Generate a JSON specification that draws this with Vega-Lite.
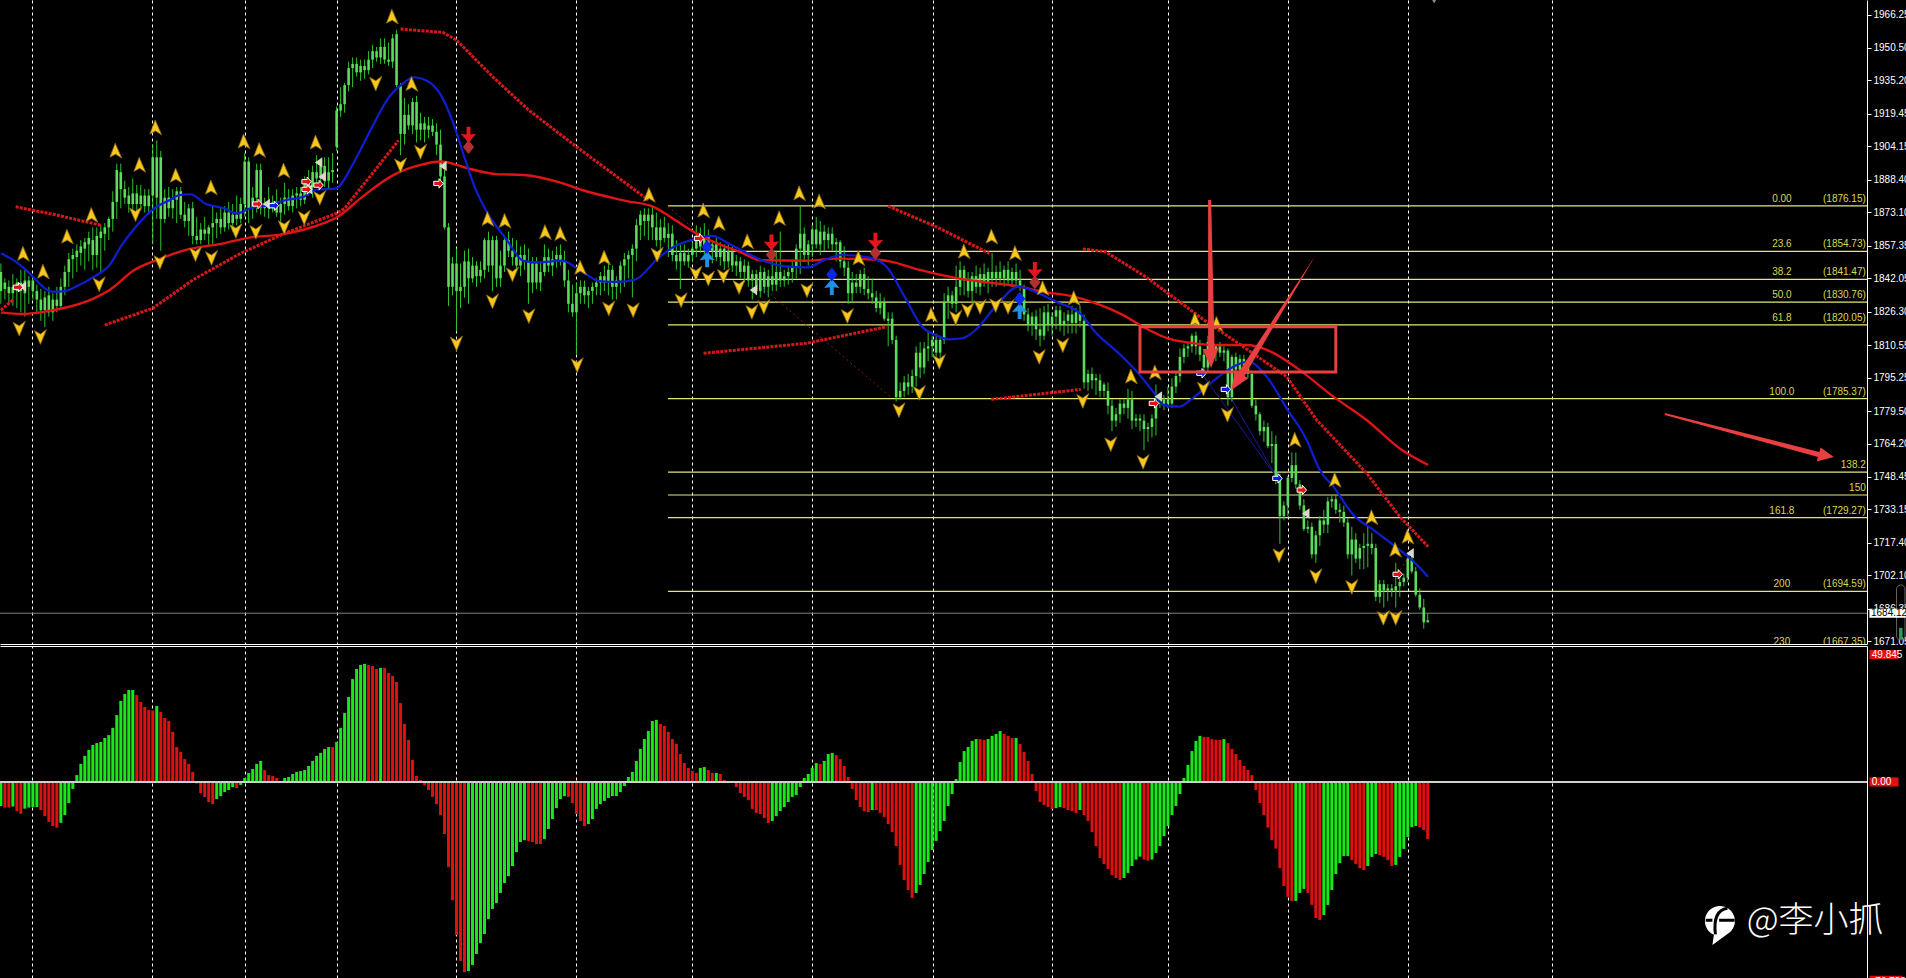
{"$schema":"https://vega.github.io/schema/vega-lite/v6.json","background":"#000000","padding":0,"spacing":2,"bounds":"flush","config":{"view":{"stroke":null},"axis":{"title":null},"text":{"font":"Liberation Sans"}},
"datasets":{
"bars":[
{"i":0,"o":1836,"h":1849,"l":1830,"c":1845,"m":-9,"s":"g"},{"i":1,"o":1837,"h":1842,"l":1832,"c":1840,"m":-9.6,"s":"r"},{"i":2,"o":1835,"h":1841,"l":1830,"c":1838,"m":-9.6,"s":"r"},{"i":3,"o":1838,"h":1844,"l":1829,"c":1835,"m":-9.2,"s":"g"},{"i":4,"o":1836,"h":1842,"l":1828,"c":1840,"m":-10.9,"s":"r"},{"i":5,"o":1840,"h":1846,"l":1826,"c":1836,"m":-11.9,"s":"r"},{"i":6,"o":1835,"h":1846,"l":1824,"c":1841,"m":-10,"s":"g"},{"i":7,"o":1838,"h":1843,"l":1830,"c":1841,"m":-9.6,"s":"g"},{"i":8,"o":1841,"h":1843,"l":1832,"c":1836,"m":-9.4,"s":"g"},{"i":9,"o":1836,"h":1839,"l":1826,"c":1832,"m":-9.4,"s":"g"},
{"i":10,"o":1832,"h":1837,"l":1822,"c":1827,"m":-10.5,"s":"r"},{"i":11,"o":1827,"h":1836,"l":1819,"c":1833,"m":-12.8,"s":"r"},{"i":12,"o":1834,"h":1838,"l":1824,"c":1826,"m":-15,"s":"r"},{"i":13,"o":1826,"h":1835,"l":1822,"c":1832,"m":-16.5,"s":"r"},{"i":14,"o":1832,"h":1838,"l":1826,"c":1829,"m":-17.1,"s":"r"},{"i":15,"o":1829,"h":1842,"l":1827,"c":1838,"m":-15.3,"s":"g"},{"i":16,"o":1838,"h":1848,"l":1834,"c":1845,"m":-12.4,"s":"g"},{"i":17,"o":1845,"h":1854,"l":1838,"c":1851,"m":-7.9,"s":"g"},{"i":18,"o":1851,"h":1856,"l":1842,"c":1853,"m":-2.6,"s":"g"},{"i":19,"o":1852,"h":1858,"l":1845,"c":1855,"m":2.6,"s":"g"},
{"i":20,"o":1854,"h":1860,"l":1848,"c":1857,"m":6.8,"s":"g"},{"i":21,"o":1856,"h":1861,"l":1846,"c":1859,"m":9.8,"s":"g"},{"i":22,"o":1858,"h":1864,"l":1850,"c":1861,"m":12,"s":"g"},{"i":23,"o":1860,"h":1866,"l":1846,"c":1853,"m":13.9,"s":"g"},{"i":24,"o":1853,"h":1866,"l":1847,"c":1862,"m":14.6,"s":"g"},{"i":25,"o":1861,"h":1867,"l":1845,"c":1864,"m":15,"s":"g"},{"i":26,"o":1863,"h":1868,"l":1855,"c":1866,"m":16.5,"s":"g"},{"i":27,"o":1866,"h":1871,"l":1860,"c":1870,"m":17.6,"s":"g"},{"i":28,"o":1870,"h":1883,"l":1864,"c":1878,"m":20.3,"s":"g"},{"i":29,"o":1878,"h":1896,"l":1870,"c":1893,"m":25.1,"s":"g"},
{"i":30,"o":1892,"h":1896,"l":1875,"c":1884,"m":30.4,"s":"g"},{"i":31,"o":1884,"h":1888,"l":1877,"c":1880,"m":33,"s":"g"},{"i":32,"o":1881,"h":1885,"l":1873,"c":1877,"m":34.5,"s":"g"},{"i":33,"o":1877,"h":1889,"l":1874,"c":1882,"m":34.5,"s":"g"},{"i":34,"o":1882,"h":1886,"l":1873,"c":1877,"m":32.6,"s":"r"},{"i":35,"o":1877,"h":1886,"l":1874,"c":1881,"m":30,"s":"r"},{"i":36,"o":1881,"h":1884,"l":1873,"c":1876,"m":28.1,"s":"r"},{"i":37,"o":1876,"h":1884,"l":1872,"c":1881,"m":27,"s":"r"},{"i":38,"o":1881,"h":1905,"l":1858,"c":1899,"m":26.8,"s":"r"},{"i":39,"o":1880,"h":1907,"l":1870,"c":1899,"m":28.5,"s":"g"},
{"i":40,"o":1899,"h":1902,"l":1855,"c":1870,"m":26.3,"s":"r"},{"i":41,"o":1870,"h":1884,"l":1868,"c":1880,"m":24,"s":"r"},{"i":42,"o":1880,"h":1885,"l":1871,"c":1875,"m":22.9,"s":"r"},{"i":43,"o":1875,"h":1884,"l":1870,"c":1879,"m":18.8,"s":"r"},{"i":44,"o":1879,"h":1885,"l":1868,"c":1883,"m":13.1,"s":"r"},{"i":45,"o":1883,"h":1885,"l":1870,"c":1872,"m":11.3,"s":"r"},{"i":46,"o":1872,"h":1878,"l":1866,"c":1869,"m":8.6,"s":"r"},{"i":47,"o":1869,"h":1877,"l":1862,"c":1875,"m":6.8,"s":"r"},{"i":48,"o":1875,"h":1878,"l":1858,"c":1862,"m":3.8,"s":"r"},{"i":49,"o":1862,"h":1871,"l":1858,"c":1860,"m":-0.6,"s":"r"},
{"i":50,"o":1860,"h":1868,"l":1858,"c":1865,"m":-4.1,"s":"r"},{"i":51,"o":1865,"h":1871,"l":1860,"c":1863,"m":-5.6,"s":"r"},{"i":52,"o":1863,"h":1867,"l":1857,"c":1866,"m":-7.5,"s":"r"},{"i":53,"o":1866,"h":1876,"l":1858,"c":1868,"m":-8.3,"s":"r"},{"i":54,"o":1868,"h":1873,"l":1861,"c":1870,"m":-6.4,"s":"g"},{"i":55,"o":1870,"h":1875,"l":1863,"c":1866,"m":-5.3,"s":"g"},{"i":56,"o":1866,"h":1876,"l":1864,"c":1873,"m":-3.8,"s":"g"},{"i":57,"o":1873,"h":1878,"l":1865,"c":1868,"m":-3,"s":"g"},{"i":58,"o":1868,"h":1877,"l":1864,"c":1872,"m":-1.9,"s":"g"},{"i":59,"o":1872,"h":1881,"l":1867,"c":1870,"m":-2.3,"s":"r"},
{"i":60,"o":1870,"h":1880,"l":1868,"c":1877,"m":-1.1,"s":"g"},{"i":61,"o":1877,"h":1901,"l":1871,"c":1897,"m":1.5,"s":"g"},{"i":62,"o":1897,"h":1899,"l":1868,"c":1875,"m":3.4,"s":"g"},{"i":63,"o":1875,"h":1885,"l":1870,"c":1880,"m":4.9,"s":"g"},{"i":64,"o":1880,"h":1896,"l":1873,"c":1893,"m":6.8,"s":"g"},{"i":65,"o":1893,"h":1896,"l":1872,"c":1875,"m":7.9,"s":"g"},{"i":66,"o":1875,"h":1880,"l":1871,"c":1877,"m":4.5,"s":"r"},{"i":67,"o":1877,"h":1885,"l":1870,"c":1875,"m":2.6,"s":"r"},{"i":68,"o":1875,"h":1881,"l":1873,"c":1878,"m":2.3,"s":"r"},{"i":69,"o":1878,"h":1884,"l":1871,"c":1873,"m":1.5,"s":"r"},
{"i":70,"o":1873,"h":1880,"l":1868,"c":1877,"m":0.3,"s":"r"},{"i":71,"o":1877,"h":1887,"l":1872,"c":1880,"m":1.5,"s":"g"},{"i":72,"o":1880,"h":1884,"l":1874,"c":1876,"m":1.9,"s":"g"},{"i":73,"o":1876,"h":1884,"l":1873,"c":1881,"m":3,"s":"g"},{"i":74,"o":1881,"h":1885,"l":1875,"c":1882,"m":3.8,"s":"g"},{"i":75,"o":1882,"h":1885,"l":1876,"c":1879,"m":4.1,"s":"g"},{"i":76,"o":1879,"h":1890,"l":1877,"c":1887,"m":4.5,"s":"g"},{"i":77,"o":1887,"h":1893,"l":1881,"c":1885,"m":6,"s":"g"},{"i":78,"o":1885,"h":1895,"l":1880,"c":1892,"m":7.9,"s":"g"},{"i":79,"o":1892,"h":1900,"l":1886,"c":1889,"m":9.8,"s":"g"},
{"i":80,"o":1889,"h":1898,"l":1884,"c":1895,"m":10.9,"s":"g"},{"i":81,"o":1895,"h":1899,"l":1885,"c":1888,"m":12.4,"s":"g"},{"i":82,"o":1888,"h":1899,"l":1884,"c":1892,"m":13.1,"s":"g"},{"i":83,"o":1892,"h":1901,"l":1887,"c":1893,"m":13.1,"s":"r"},{"i":84,"o":1904,"h":1923,"l":1902,"c":1921,"m":15,"s":"g"},{"i":85,"o":1921,"h":1932,"l":1918,"c":1924,"m":20.3,"s":"g"},{"i":86,"o":1924,"h":1934,"l":1920,"c":1933,"m":25.9,"s":"g"},{"i":87,"o":1933,"h":1944,"l":1930,"c":1941,"m":31.9,"s":"g"},{"i":88,"o":1941,"h":1946,"l":1932,"c":1943,"m":38.6,"s":"g"},{"i":89,"o":1943,"h":1946,"l":1937,"c":1939,"m":42.4,"s":"g"},
{"i":90,"o":1939,"h":1945,"l":1935,"c":1942,"m":43.9,"s":"g"},{"i":91,"o":1942,"h":1945,"l":1936,"c":1940,"m":44.3,"s":"g"},{"i":92,"o":1940,"h":1949,"l":1938,"c":1945,"m":43.9,"s":"r"},{"i":93,"o":1945,"h":1952,"l":1941,"c":1949,"m":43.5,"s":"r"},{"i":94,"o":1949,"h":1951,"l":1944,"c":1946,"m":42.4,"s":"r"},{"i":95,"o":1946,"h":1955,"l":1943,"c":1951,"m":42.8,"s":"g"},{"i":96,"o":1951,"h":1955,"l":1943,"c":1945,"m":42.8,"s":"r"},{"i":97,"o":1945,"h":1953,"l":1942,"c":1944,"m":40.9,"s":"r"},{"i":98,"o":1944,"h":1957,"l":1941,"c":1955,"m":39.8,"s":"r"},{"i":99,"o":1957,"h":1959,"l":1932,"c":1933,"m":37.5,"s":"r"},
{"i":100,"o":1933,"h":1934,"l":1900,"c":1910,"m":29.6,"s":"r"},{"i":101,"o":1910,"h":1927,"l":1905,"c":1919,"m":21.8,"s":"r"},{"i":102,"o":1919,"h":1924,"l":1912,"c":1914,"m":15.8,"s":"r"},{"i":103,"o":1914,"h":1927,"l":1910,"c":1925,"m":8.3,"s":"r"},{"i":104,"o":1925,"h":1928,"l":1906,"c":1912,"m":2.3,"s":"r"},{"i":105,"o":1912,"h":1920,"l":1907,"c":1915,"m":0.8,"s":"r"},{"i":106,"o":1915,"h":1918,"l":1906,"c":1912,"m":-1.1,"s":"r"},{"i":107,"o":1912,"h":1918,"l":1908,"c":1914,"m":-3,"s":"r"},{"i":108,"o":1914,"h":1917,"l":1909,"c":1911,"m":-5.6,"s":"r"},{"i":109,"o":1911,"h":1915,"l":1900,"c":1905,"m":-8.3,"s":"r"},
{"i":110,"o":1905,"h":1912,"l":1885,"c":1890,"m":-12.4,"s":"r"},{"i":111,"o":1890,"h":1893,"l":1865,"c":1866,"m":-19.5,"s":"r"},{"i":112,"o":1866,"h":1868,"l":1829,"c":1838,"m":-31.9,"s":"r"},{"i":113,"o":1838,"h":1852,"l":1834,"c":1849,"m":-44.3,"s":"r"},{"i":114,"o":1849,"h":1856,"l":1817,"c":1836,"m":-57.4,"s":"r"},{"i":115,"o":1836,"h":1849,"l":1828,"c":1838,"m":-67.1,"s":"r"},{"i":116,"o":1838,"h":1855,"l":1833,"c":1850,"m":-71.3,"s":"r"},{"i":117,"o":1850,"h":1856,"l":1830,"c":1842,"m":-70.9,"s":"g"},{"i":118,"o":1842,"h":1852,"l":1840,"c":1848,"m":-68.6,"s":"g"},{"i":119,"o":1848,"h":1850,"l":1838,"c":1843,"m":-64.5,"s":"g"},
{"i":120,"o":1843,"h":1850,"l":1840,"c":1846,"m":-60.4,"s":"g"},{"i":121,"o":1846,"h":1861,"l":1842,"c":1860,"m":-57,"s":"g"},{"i":122,"o":1860,"h":1864,"l":1845,"c":1848,"m":-51.4,"s":"g"},{"i":123,"o":1848,"h":1862,"l":1836,"c":1860,"m":-47.6,"s":"g"},{"i":124,"o":1860,"h":1862,"l":1838,"c":1842,"m":-45.4,"s":"g"},{"i":125,"o":1842,"h":1855,"l":1838,"c":1848,"m":-41.6,"s":"g"},{"i":126,"o":1848,"h":1862,"l":1845,"c":1860,"m":-37.9,"s":"g"},{"i":127,"o":1860,"h":1864,"l":1852,"c":1855,"m":-35.3,"s":"g"},{"i":128,"o":1855,"h":1861,"l":1848,"c":1852,"m":-31.5,"s":"g"},{"i":129,"o":1852,"h":1860,"l":1845,"c":1848,"m":-26.3,"s":"g"},
{"i":130,"o":1848,"h":1857,"l":1843,"c":1853,"m":-22.5,"s":"g"},{"i":131,"o":1853,"h":1858,"l":1846,"c":1850,"m":-21.8,"s":"g"},{"i":132,"o":1850,"h":1856,"l":1830,"c":1840,"m":-22.1,"s":"r"},{"i":133,"o":1840,"h":1852,"l":1835,"c":1849,"m":-22.5,"s":"r"},{"i":134,"o":1849,"h":1852,"l":1837,"c":1840,"m":-23.3,"s":"r"},{"i":135,"o":1840,"h":1850,"l":1836,"c":1845,"m":-23.3,"s":"r"},{"i":136,"o":1845,"h":1858,"l":1843,"c":1852,"m":-21.4,"s":"g"},{"i":137,"o":1852,"h":1856,"l":1845,"c":1848,"m":-17.6,"s":"g"},{"i":138,"o":1848,"h":1855,"l":1843,"c":1851,"m":-13.9,"s":"g"},{"i":139,"o":1851,"h":1857,"l":1847,"c":1853,"m":-9.8,"s":"g"},
{"i":140,"o":1853,"h":1858,"l":1848,"c":1850,"m":-6.4,"s":"g"},{"i":141,"o":1850,"h":1855,"l":1838,"c":1841,"m":-5.3,"s":"g"},{"i":142,"o":1841,"h":1846,"l":1826,"c":1830,"m":-5.6,"s":"r"},{"i":143,"o":1830,"h":1839,"l":1824,"c":1826,"m":-7.9,"s":"r"},{"i":144,"o":1826,"h":1840,"l":1806,"c":1835,"m":-12,"s":"r"},{"i":145,"o":1835,"h":1841,"l":1830,"c":1838,"m":-14.6,"s":"r"},{"i":146,"o":1838,"h":1841,"l":1830,"c":1834,"m":-16.5,"s":"r"},{"i":147,"o":1834,"h":1838,"l":1828,"c":1836,"m":-15.8,"s":"g"},{"i":148,"o":1836,"h":1840,"l":1830,"c":1838,"m":-13.9,"s":"g"},{"i":149,"o":1838,"h":1842,"l":1834,"c":1840,"m":-10.1,"s":"g"},
{"i":150,"o":1840,"h":1845,"l":1834,"c":1843,"m":-8.3,"s":"g"},{"i":151,"o":1843,"h":1848,"l":1836,"c":1840,"m":-7.1,"s":"g"},{"i":152,"o":1840,"h":1849,"l":1834,"c":1846,"m":-6,"s":"g"},{"i":153,"o":1846,"h":1848,"l":1832,"c":1838,"m":-5.3,"s":"g"},{"i":154,"o":1838,"h":1843,"l":1832,"c":1841,"m":-5.3,"s":"g"},{"i":155,"o":1841,"h":1850,"l":1835,"c":1848,"m":-3.8,"s":"g"},{"i":156,"o":1848,"h":1854,"l":1838,"c":1851,"m":-1.5,"s":"g"},{"i":157,"o":1851,"h":1855,"l":1842,"c":1853,"m":1.9,"s":"g"},{"i":158,"o":1853,"h":1858,"l":1833,"c":1856,"m":3.8,"s":"g"},{"i":159,"o":1856,"h":1870,"l":1850,"c":1867,"m":7.9,"s":"g"},
{"i":160,"o":1867,"h":1874,"l":1860,"c":1872,"m":12.4,"s":"g"},{"i":161,"o":1872,"h":1875,"l":1862,"c":1869,"m":16.1,"s":"g"},{"i":162,"o":1869,"h":1875,"l":1860,"c":1872,"m":19.1,"s":"g"},{"i":163,"o":1872,"h":1876,"l":1860,"c":1866,"m":22.9,"s":"g"},{"i":164,"o":1866,"h":1873,"l":1857,"c":1860,"m":23.3,"s":"g"},{"i":165,"o":1860,"h":1870,"l":1855,"c":1866,"m":21.8,"s":"r"},{"i":166,"o":1866,"h":1871,"l":1859,"c":1861,"m":21,"s":"r"},{"i":167,"o":1861,"h":1868,"l":1852,"c":1863,"m":18.8,"s":"r"},{"i":168,"o":1863,"h":1867,"l":1850,"c":1853,"m":16.1,"s":"r"},{"i":169,"o":1853,"h":1860,"l":1846,"c":1850,"m":14.3,"s":"r"},
{"i":170,"o":1850,"h":1858,"l":1837,"c":1854,"m":10.5,"s":"r"},{"i":171,"o":1854,"h":1858,"l":1848,"c":1850,"m":7.1,"s":"r"},{"i":172,"o":1850,"h":1856,"l":1847,"c":1853,"m":5.3,"s":"r"},{"i":173,"o":1853,"h":1860,"l":1850,"c":1856,"m":4.1,"s":"r"},{"i":174,"o":1856,"h":1867,"l":1852,"c":1860,"m":3.4,"s":"r"},{"i":175,"o":1860,"h":1866,"l":1854,"c":1857,"m":5.3,"s":"g"},{"i":176,"o":1857,"h":1868,"l":1852,"c":1862,"m":5.6,"s":"g"},{"i":177,"o":1862,"h":1865,"l":1852,"c":1855,"m":4.5,"s":"r"},{"i":178,"o":1855,"h":1860,"l":1849,"c":1858,"m":3.4,"s":"r"},{"i":179,"o":1858,"h":1861,"l":1850,"c":1852,"m":3.4,"s":"g"},
{"i":180,"o":1852,"h":1859,"l":1848,"c":1856,"m":3,"s":"r"},{"i":181,"o":1856,"h":1858,"l":1846,"c":1850,"m":0.8,"s":"r"},{"i":182,"o":1850,"h":1858,"l":1847,"c":1855,"m":0.1,"s":"r"},{"i":183,"o":1855,"h":1857,"l":1845,"c":1848,"m":-0.2,"s":"r"},{"i":184,"o":1848,"h":1853,"l":1843,"c":1850,"m":-1.9,"s":"r"},{"i":185,"o":1850,"h":1852,"l":1842,"c":1845,"m":-4.1,"s":"r"},{"i":186,"o":1845,"h":1851,"l":1840,"c":1848,"m":-5.6,"s":"r"},{"i":187,"o":1848,"h":1850,"l":1838,"c":1841,"m":-6.8,"s":"r"},{"i":188,"o":1841,"h":1846,"l":1832,"c":1844,"m":-10.1,"s":"r"},{"i":189,"o":1844,"h":1846,"l":1834,"c":1836,"m":-11.6,"s":"r"},
{"i":190,"o":1836,"h":1848,"l":1833,"c":1845,"m":-12,"s":"r"},{"i":191,"o":1845,"h":1847,"l":1835,"c":1838,"m":-13.5,"s":"r"},{"i":192,"o":1838,"h":1846,"l":1833,"c":1843,"m":-15.4,"s":"r"},{"i":193,"o":1843,"h":1850,"l":1836,"c":1839,"m":-14.6,"s":"g"},{"i":194,"o":1839,"h":1855,"l":1836,"c":1845,"m":-12.8,"s":"g"},{"i":195,"o":1845,"h":1864,"l":1838,"c":1841,"m":-10.9,"s":"g"},{"i":196,"o":1841,"h":1846,"l":1838,"c":1843,"m":-9.4,"s":"g"},{"i":197,"o":1843,"h":1848,"l":1839,"c":1845,"m":-7.5,"s":"g"},{"i":198,"o":1845,"h":1850,"l":1840,"c":1847,"m":-5.6,"s":"g"},{"i":199,"o":1847,"h":1858,"l":1842,"c":1856,"m":-4.9,"s":"g"},
{"i":200,"o":1856,"h":1876,"l":1844,"c":1863,"m":-1.9,"s":"g"},{"i":201,"o":1863,"h":1866,"l":1850,"c":1853,"m":1.5,"s":"g"},{"i":202,"o":1853,"h":1860,"l":1848,"c":1858,"m":3,"s":"g"},{"i":203,"o":1858,"h":1867,"l":1852,"c":1865,"m":5.3,"s":"g"},{"i":204,"o":1865,"h":1871,"l":1856,"c":1858,"m":7.1,"s":"g"},{"i":205,"o":1858,"h":1869,"l":1853,"c":1864,"m":6.8,"s":"r"},{"i":206,"o":1864,"h":1867,"l":1855,"c":1860,"m":7.9,"s":"g"},{"i":207,"o":1860,"h":1866,"l":1856,"c":1863,"m":10.5,"s":"g"},{"i":208,"o":1863,"h":1866,"l":1855,"c":1858,"m":10.9,"s":"g"},{"i":209,"o":1858,"h":1861,"l":1850,"c":1859,"m":10.1,"s":"r"},
{"i":210,"o":1859,"h":1860,"l":1847,"c":1850,"m":8.6,"s":"r"},{"i":211,"o":1850,"h":1857,"l":1843,"c":1847,"m":6,"s":"r"},{"i":212,"o":1847,"h":1850,"l":1830,"c":1835,"m":1.9,"s":"r"},{"i":213,"o":1835,"h":1845,"l":1831,"c":1840,"m":-2.6,"s":"r"},{"i":214,"o":1840,"h":1844,"l":1835,"c":1838,"m":-6.8,"s":"r"},{"i":215,"o":1838,"h":1846,"l":1835,"c":1844,"m":-9.4,"s":"r"},{"i":216,"o":1844,"h":1847,"l":1834,"c":1837,"m":-10.9,"s":"r"},{"i":217,"o":1837,"h":1843,"l":1832,"c":1835,"m":-11.3,"s":"r"},{"i":218,"o":1835,"h":1842,"l":1830,"c":1833,"m":-10.5,"s":"g"},{"i":219,"o":1833,"h":1836,"l":1826,"c":1828,"m":-10.5,"s":"r"},
{"i":220,"o":1828,"h":1835,"l":1825,"c":1831,"m":-11.6,"s":"r"},{"i":221,"o":1831,"h":1833,"l":1822,"c":1823,"m":-13.1,"s":"r"},{"i":222,"o":1823,"h":1826,"l":1810,"c":1822,"m":-15.8,"s":"r"},{"i":223,"o":1823,"h":1826,"l":1811,"c":1813,"m":-18.8,"s":"r"},{"i":224,"o":1813,"h":1815,"l":1784,"c":1786,"m":-24,"s":"r"},{"i":225,"o":1786,"h":1793,"l":1785,"c":1789,"m":-31.1,"s":"r"},{"i":226,"o":1789,"h":1796,"l":1786,"c":1793,"m":-36.8,"s":"r"},{"i":227,"o":1793,"h":1797,"l":1787,"c":1791,"m":-40.5,"s":"r"},{"i":228,"o":1791,"h":1799,"l":1788,"c":1796,"m":-43.5,"s":"r"},{"i":229,"o":1796,"h":1810,"l":1791,"c":1807,"m":-41.6,"s":"g"},
{"i":230,"o":1807,"h":1812,"l":1795,"c":1800,"m":-38.6,"s":"g"},{"i":231,"o":1800,"h":1812,"l":1797,"c":1809,"m":-34.5,"s":"g"},{"i":232,"o":1809,"h":1817,"l":1803,"c":1810,"m":-30,"s":"g"},{"i":233,"o":1810,"h":1815,"l":1805,"c":1813,"m":-25.5,"s":"g"},{"i":234,"o":1813,"h":1816,"l":1804,"c":1807,"m":-22.1,"s":"g"},{"i":235,"o":1807,"h":1815,"l":1804,"c":1813,"m":-18.4,"s":"g"},{"i":236,"o":1813,"h":1835,"l":1811,"c":1831,"m":-14.6,"s":"g"},{"i":237,"o":1831,"h":1838,"l":1823,"c":1834,"m":-9,"s":"g"},{"i":238,"o":1834,"h":1836,"l":1828,"c":1830,"m":-4.5,"s":"g"},{"i":239,"o":1830,"h":1848,"l":1826,"c":1838,"m":1.1,"s":"g"},
{"i":240,"o":1838,"h":1850,"l":1834,"c":1846,"m":7.5,"s":"g"},{"i":241,"o":1846,"h":1848,"l":1834,"c":1841,"m":11.6,"s":"g"},{"i":242,"o":1841,"h":1845,"l":1833,"c":1836,"m":13.1,"s":"g"},{"i":243,"o":1836,"h":1845,"l":1830,"c":1843,"m":15.4,"s":"g"},{"i":244,"o":1843,"h":1848,"l":1835,"c":1838,"m":16.1,"s":"g"},{"i":245,"o":1838,"h":1847,"l":1834,"c":1844,"m":16.1,"s":"r"},{"i":246,"o":1844,"h":1849,"l":1838,"c":1840,"m":15.8,"s":"r"},{"i":247,"o":1840,"h":1847,"l":1835,"c":1845,"m":16.1,"s":"g"},{"i":248,"o":1845,"h":1854,"l":1838,"c":1842,"m":17.3,"s":"g"},{"i":249,"o":1842,"h":1848,"l":1838,"c":1845,"m":18,"s":"g"},
{"i":250,"o":1845,"h":1850,"l":1840,"c":1842,"m":19.1,"s":"g"},{"i":251,"o":1842,"h":1848,"l":1838,"c":1846,"m":18,"s":"r"},{"i":252,"o":1846,"h":1850,"l":1839,"c":1841,"m":17.3,"s":"r"},{"i":253,"o":1841,"h":1847,"l":1838,"c":1845,"m":16.5,"s":"r"},{"i":254,"o":1845,"h":1849,"l":1838,"c":1841,"m":16.5,"s":"g"},{"i":255,"o":1841,"h":1846,"l":1836,"c":1838,"m":14.3,"s":"r"},{"i":256,"o":1838,"h":1839,"l":1822,"c":1825,"m":11.3,"s":"r"},{"i":257,"o":1825,"h":1828,"l":1817,"c":1820,"m":7.9,"s":"r"},{"i":258,"o":1820,"h":1826,"l":1815,"c":1824,"m":3,"s":"r"},{"i":259,"o":1824,"h":1827,"l":1813,"c":1818,"m":-3.4,"s":"r"},
{"i":260,"o":1818,"h":1828,"l":1810,"c":1815,"m":-7.5,"s":"r"},{"i":261,"o":1815,"h":1829,"l":1813,"c":1826,"m":-8.6,"s":"r"},{"i":262,"o":1826,"h":1830,"l":1817,"c":1820,"m":-9.4,"s":"r"},{"i":263,"o":1820,"h":1826,"l":1815,"c":1824,"m":-10.1,"s":"r"},{"i":264,"o":1824,"h":1829,"l":1818,"c":1827,"m":-9.8,"s":"g"},{"i":265,"o":1827,"h":1829,"l":1817,"c":1820,"m":-9.4,"s":"g"},{"i":266,"o":1820,"h":1826,"l":1815,"c":1822,"m":-9.8,"s":"r"},{"i":267,"o":1822,"h":1827,"l":1816,"c":1825,"m":-10.5,"s":"r"},{"i":268,"o":1825,"h":1829,"l":1816,"c":1821,"m":-10.9,"s":"r"},{"i":269,"o":1821,"h":1828,"l":1816,"c":1826,"m":-11.6,"s":"r"},
{"i":270,"o":1826,"h":1829,"l":1819,"c":1822,"m":-10.5,"s":"g"},{"i":271,"o":1822,"h":1825,"l":1790,"c":1793,"m":-12.4,"s":"r"},{"i":272,"o":1793,"h":1799,"l":1789,"c":1797,"m":-14.6,"s":"r"},{"i":273,"o":1797,"h":1800,"l":1790,"c":1794,"m":-18.8,"s":"r"},{"i":274,"o":1794,"h":1797,"l":1787,"c":1795,"m":-24,"s":"r"},{"i":275,"o":1794,"h":1797,"l":1786,"c":1789,"m":-28.5,"s":"r"},{"i":276,"o":1789,"h":1793,"l":1786,"c":1792,"m":-30.8,"s":"r"},{"i":277,"o":1789,"h":1793,"l":1778,"c":1782,"m":-32.6,"s":"r"},{"i":278,"o":1782,"h":1785,"l":1770,"c":1775,"m":-34.9,"s":"r"},{"i":279,"o":1775,"h":1781,"l":1772,"c":1778,"m":-36,"s":"r"},
{"i":280,"o":1778,"h":1785,"l":1774,"c":1783,"m":-36.8,"s":"r"},{"i":281,"o":1783,"h":1785,"l":1778,"c":1781,"m":-36,"s":"g"},{"i":282,"o":1781,"h":1790,"l":1776,"c":1785,"m":-34.1,"s":"g"},{"i":283,"o":1785,"h":1789,"l":1771,"c":1775,"m":-31.5,"s":"g"},{"i":284,"o":1775,"h":1778,"l":1772,"c":1776,"m":-29.1,"s":"g"},{"i":285,"o":1776,"h":1778,"l":1770,"c":1775,"m":-28,"s":"g"},{"i":286,"o":1775,"h":1778,"l":1761,"c":1771,"m":-29.1,"s":"r"},{"i":287,"o":1771,"h":1774,"l":1765,"c":1772,"m":-29.5,"s":"r"},{"i":288,"o":1772,"h":1778,"l":1767,"c":1776,"m":-29.1,"s":"g"},{"i":289,"o":1776,"h":1792,"l":1768,"c":1784,"m":-26.6,"s":"g"},
{"i":290,"o":1784,"h":1786,"l":1781,"c":1783,"m":-24,"s":"g"},{"i":291,"o":1783,"h":1787,"l":1780,"c":1785,"m":-20.3,"s":"g"},{"i":292,"o":1785,"h":1791,"l":1781,"c":1783,"m":-16.5,"s":"g"},{"i":293,"o":1783,"h":1795,"l":1781,"c":1791,"m":-12.4,"s":"g"},{"i":294,"o":1791,"h":1798,"l":1788,"c":1796,"m":-9,"s":"g"},{"i":295,"o":1796,"h":1809,"l":1793,"c":1805,"m":-4.5,"s":"g"},{"i":296,"o":1805,"h":1811,"l":1802,"c":1809,"m":1.5,"s":"g"},{"i":297,"o":1809,"h":1812,"l":1805,"c":1810,"m":6.4,"s":"g"},{"i":298,"o":1810,"h":1816,"l":1807,"c":1815,"m":11.6,"s":"g"},{"i":299,"o":1815,"h":1817,"l":1806,"c":1810,"m":15.4,"s":"g"},
{"i":300,"o":1810,"h":1813,"l":1803,"c":1806,"m":17.3,"s":"g"},{"i":301,"o":1806,"h":1808,"l":1796,"c":1800,"m":16.9,"s":"r"},{"i":302,"o":1800,"h":1815,"l":1798,"c":1812,"m":16.9,"s":"r"},{"i":303,"o":1812,"h":1816,"l":1806,"c":1808,"m":16.1,"s":"r"},{"i":304,"o":1808,"h":1811,"l":1803,"c":1810,"m":15.8,"s":"r"},{"i":305,"o":1810,"h":1812,"l":1805,"c":1807,"m":15.8,"s":"r"},{"i":306,"o":1807,"h":1810,"l":1803,"c":1808,"m":16.1,"s":"g"},{"i":307,"o":1808,"h":1809,"l":1782,"c":1786,"m":14.6,"s":"r"},{"i":308,"o":1786,"h":1806,"l":1784,"c":1805,"m":12.4,"s":"r"},{"i":309,"o":1805,"h":1807,"l":1798,"c":1799,"m":10.5,"s":"r"},
{"i":310,"o":1799,"h":1806,"l":1796,"c":1804,"m":8.3,"s":"r"},{"i":311,"o":1804,"h":1806,"l":1800,"c":1801,"m":6,"s":"r"},{"i":312,"o":1801,"h":1803,"l":1795,"c":1797,"m":4.5,"s":"r"},{"i":313,"o":1797,"h":1798,"l":1781,"c":1782,"m":2.6,"s":"r"},{"i":314,"o":1782,"h":1785,"l":1775,"c":1778,"m":-3,"s":"r"},{"i":315,"o":1778,"h":1779,"l":1768,"c":1770,"m":-7.9,"s":"r"},{"i":316,"o":1770,"h":1775,"l":1765,"c":1772,"m":-12.4,"s":"r"},{"i":317,"o":1772,"h":1774,"l":1762,"c":1763,"m":-17.1,"s":"r"},{"i":318,"o":1763,"h":1770,"l":1755,"c":1764,"m":-21.8,"s":"r"},{"i":319,"o":1764,"h":1768,"l":1745,"c":1748,"m":-25,"s":"r"},
{"i":320,"o":1748,"h":1750,"l":1717,"c":1730,"m":-32.3,"s":"r"},{"i":321,"o":1730,"h":1737,"l":1728,"c":1735,"m":-39,"s":"r"},{"i":322,"o":1735,"h":1749,"l":1730,"c":1748,"m":-43.1,"s":"r"},{"i":323,"o":1748,"h":1760,"l":1746,"c":1754,"m":-44.6,"s":"r"},{"i":324,"o":1754,"h":1760,"l":1743,"c":1745,"m":-44.6,"s":"g"},{"i":325,"o":1745,"h":1747,"l":1733,"c":1735,"m":-41.6,"s":"g"},{"i":326,"o":1735,"h":1738,"l":1723,"c":1724,"m":-40.1,"s":"g"},{"i":327,"o":1724,"h":1728,"l":1722,"c":1725,"m":-41.6,"s":"r"},{"i":328,"o":1725,"h":1727,"l":1710,"c":1712,"m":-46.1,"s":"r"},{"i":329,"o":1712,"h":1723,"l":1708,"c":1721,"m":-51,"s":"r"},
{"i":330,"o":1721,"h":1730,"l":1716,"c":1728,"m":-51.8,"s":"r"},{"i":331,"o":1728,"h":1733,"l":1722,"c":1726,"m":-49.9,"s":"g"},{"i":332,"o":1726,"h":1739,"l":1722,"c":1737,"m":-46.1,"s":"g"},{"i":333,"o":1737,"h":1740,"l":1734,"c":1738,"m":-40.5,"s":"g"},{"i":334,"o":1738,"h":1740,"l":1731,"c":1733,"m":-34.5,"s":"g"},{"i":335,"o":1733,"h":1736,"l":1727,"c":1732,"m":-30.4,"s":"g"},{"i":336,"o":1732,"h":1735,"l":1725,"c":1727,"m":-27.8,"s":"g"},{"i":337,"o":1727,"h":1729,"l":1710,"c":1712,"m":-27.8,"s":"g"},{"i":338,"o":1712,"h":1725,"l":1702,"c":1719,"m":-29.3,"s":"r"},{"i":339,"o":1719,"h":1722,"l":1708,"c":1710,"m":-30.8,"s":"r"},
{"i":340,"o":1710,"h":1717,"l":1705,"c":1715,"m":-32.3,"s":"r"},{"i":341,"o":1715,"h":1722,"l":1705,"c":1716,"m":-33,"s":"r"},{"i":342,"o":1716,"h":1725,"l":1706,"c":1717,"m":-31.5,"s":"g"},{"i":343,"o":1717,"h":1722,"l":1712,"c":1715,"m":-28.1,"s":"g"},{"i":344,"o":1715,"h":1717,"l":1690,"c":1692,"m":-27,"s":"g"},{"i":345,"o":1692,"h":1700,"l":1689,"c":1698,"m":-27.4,"s":"r"},{"i":346,"o":1698,"h":1700,"l":1687,"c":1695,"m":-28.1,"s":"r"},{"i":347,"o":1695,"h":1698,"l":1690,"c":1696,"m":-29.3,"s":"r"},{"i":348,"o":1696,"h":1698,"l":1692,"c":1695,"m":-31.5,"s":"r"},{"i":349,"o":1695,"h":1708,"l":1687,"c":1697,"m":-31.1,"s":"g"},
{"i":350,"o":1697,"h":1702,"l":1692,"c":1699,"m":-28.1,"s":"g"},{"i":351,"o":1699,"h":1703,"l":1697,"c":1701,"m":-25.1,"s":"g"},{"i":352,"o":1701,"h":1713,"l":1699,"c":1710,"m":-20.6,"s":"g"},{"i":353,"o":1710,"h":1712,"l":1703,"c":1704,"m":-16.9,"s":"g"},{"i":354,"o":1704,"h":1706,"l":1692,"c":1693,"m":-16.5,"s":"g"},{"i":355,"o":1693,"h":1696,"l":1686,"c":1687,"m":-16.9,"s":"r"},{"i":356,"o":1687,"h":1691,"l":1677,"c":1680,"m":-18,"s":"r"},{"i":357,"o":1680,"h":1684,"l":1680,"c":1681,"m":-21.4,"s":"r"}
],
"blue":[{"i":0,"p":1853.8},{"i":4.3,"p":1849.1},{"i":7.6,"p":1843.6},{"i":11,"p":1837.3},{"i":12.7,"p":1835.7},{"i":16,"p":1836},{"i":18.8,"p":1838.1},{"i":23.3,"p":1842.8},{"i":27.2,"p":1848.3},{"i":30,"p":1856.9},{"i":33.4,"p":1865.5},{"i":38.4,"p":1875},{"i":42.3,"p":1878.9},{"i":44.6,"p":1881.2},{"i":47.4,"p":1881.6},{"i":51.3,"p":1877},{"i":55.8,"p":1875},{"i":59.1,"p":1872.6},{"i":62.5,"p":1875},{"i":67,"p":1876.5},{"i":71.4,"p":1878.9},{"i":75.9,"p":1880.5},{"i":78.7,"p":1883.6},{"i":83.8,"p":1884.4},{"i":88.2,"p":1896.2},{"i":92.7,"p":1912.6},{"i":97.2,"p":1927.6},{"i":100.6,"p":1933.8},{"i":103.4,"p":1936.7},{"i":106.2,"p":1935.4},{"i":110.1,"p":1928.3},{"i":112.9,"p":1916.6},{"i":116.2,"p":1897.7},{"i":118.5,"p":1885.2},{"i":121.8,"p":1872.6},{"i":126.3,"p":1860.8},{"i":130.8,"p":1850.2},{"i":134.2,"p":1849.5},{"i":140.3,"p":1850.3},{"i":145.4,"p":1845.1},{"i":149.8,"p":1840.7},{"i":154.3,"p":1840.3},{"i":158.8,"p":1841.5},{"i":164.4,"p":1851.4},{"i":167.7,"p":1856.1},{"i":174.3,"p":1860.8},{"i":178,"p":1862},{"i":182,"p":1858.5},{"i":185.9,"p":1854.6},{"i":191.4,"p":1849.8},{"i":197,"p":1847.5},{"i":202,"p":1847.2},{"i":206,"p":1850.6},{"i":210.4,"p":1853},{"i":217.1,"p":1851.9},{"i":221.6,"p":1847.5},{"i":226.1,"p":1833.4},{"i":230.5,"p":1819.2},{"i":233.9,"p":1815.3},{"i":237.2,"p":1813.3},{"i":240.6,"p":1813.8},{"i":243.9,"p":1817.7},{"i":249.5,"p":1830.2},{"i":254.6,"p":1838.1},{"i":259.6,"p":1835},{"i":264,"p":1831},{"i":270.2,"p":1825.2},{"i":274.1,"p":1816.1},{"i":279.7,"p":1806.7},{"i":285.3,"p":1795.7},{"i":288.6,"p":1787.8},{"i":290.9,"p":1782.3},{"i":294.8,"p":1781.6},{"i":298.1,"p":1785.5},{"i":303.1,"p":1793.3},{"i":307.6,"p":1799.6},{"i":312.1,"p":1802.8},{"i":316.7,"p":1795.7},{"i":321.7,"p":1780.8},{"i":326.7,"p":1765.9},{"i":330,"p":1751.7},{"i":333.4,"p":1743.9},{"i":338.4,"p":1730.6},{"i":343.4,"p":1723.5},{"i":348.4,"p":1716.4},{"i":352.6,"p":1710.1},{"i":357.1,"p":1701.5}],
"red":[{"i":0,"p":1826},{"i":5.4,"p":1825.2},{"i":11,"p":1826.3},{"i":15.5,"p":1827.9},{"i":23.3,"p":1832.6},{"i":27.2,"p":1836.5},{"i":33.4,"p":1845.9},{"i":39,"p":1850.6},{"i":46.8,"p":1855.6},{"i":55.8,"p":1858.5},{"i":62.5,"p":1861.3},{"i":70.3,"p":1862.7},{"i":78.2,"p":1866.3},{"i":84.3,"p":1871},{"i":90.5,"p":1880.5},{"i":98.3,"p":1890.7},{"i":105,"p":1895.4},{"i":110,"p":1897},{"i":117.4,"p":1893.5},{"i":124,"p":1891.1},{"i":130.8,"p":1890.7},{"i":139.8,"p":1887.2},{"i":145.4,"p":1883.6},{"i":156.6,"p":1878.4},{"i":163.3,"p":1875.7},{"i":168,"p":1870.3},{"i":174.7,"p":1862.4},{"i":179.2,"p":1858.5},{"i":184.7,"p":1854.6},{"i":190.3,"p":1850.5},{"i":201.5,"p":1850.3},{"i":209.3,"p":1851.3},{"i":217.1,"p":1851},{"i":222.7,"p":1849.9},{"i":229.4,"p":1846.2},{"i":239.5,"p":1842},{"i":247.3,"p":1840},{"i":254,"p":1838.4},{"i":260.7,"p":1835.7},{"i":268.5,"p":1833.4},{"i":275.2,"p":1829.4},{"i":280.8,"p":1824.7},{"i":286.4,"p":1818.5},{"i":292,"p":1813.7},{"i":298.7,"p":1811.4},{"i":304.2,"p":1810.6},{"i":312,"p":1810.6},{"i":317.7,"p":1807.5},{"i":324.4,"p":1799.6},{"i":333.4,"p":1786.3},{"i":341.7,"p":1775.3},{"i":350,"p":1761.9},{"i":357.1,"p":1754.1}],
"sar":[{"seg":"A0","i":0,"p":1827},{"seg":"A0","i":3,"p":1831.8},{"seg":"A","i":3.7,"p":1875.7},{"seg":"A","i":14,"p":1871.8},{"seg":"A","i":25,"p":1867},{"seg":"B","i":26,"p":1820},{"seg":"B","i":38,"p":1827.9},{"seg":"B","i":48,"p":1841.2},{"seg":"B","i":60,"p":1853.8},{"seg":"B","i":71,"p":1863.2},{"seg":"B","i":84,"p":1872.6},{"seg":"B","i":86,"p":1875},{"seg":"B","i":93,"p":1891.5},{"seg":"B","i":99.5,"p":1907},{"seg":"C","i":100,"p":1959.4},{"seg":"C","i":110.6,"p":1957.8},{"seg":"C","i":114,"p":1954.2},{"seg":"C","i":123,"p":1937},{"seg":"C","i":132,"p":1921.3},{"seg":"C","i":144,"p":1904},{"seg":"C","i":162,"p":1878.9},{"seg":"D","i":175.8,"p":1806.7},{"seg":"D","i":201.5,"p":1811.4},{"seg":"D","i":221.6,"p":1819.2},{"seg":"E","i":222,"p":1876},{"seg":"E","i":234,"p":1866.3},{"seg":"E","i":247.3,"p":1853.8},{"seg":"F","i":247.8,"p":1785},{"seg":"F","i":270.2,"p":1789.7},{"seg":"G","i":270.7,"p":1855.8},{"seg":"G","i":276.3,"p":1854.6},{"seg":"G","i":286.4,"p":1842.8},{"seg":"G","i":301,"p":1822.4},{"seg":"G","i":312,"p":1808.3},{"seg":"G","i":321.7,"p":1795.7},{"seg":"G","i":329.2,"p":1775.3},{"seg":"G","i":341.7,"p":1750.2},{"seg":"G","i":350,"p":1729.8},{"seg":"G","i":357.1,"p":1715.6}],
"thinRed":[{"seg":"a","i":166.9,"p":1875.8},{"seg":"a","i":222.7,"p":1786},{"seg":"b","i":325.5,"p":1742.3},{"seg":"b","i":326.5,"p":1731.3},{"seg":"c","i":349.5,"p":1702.6},{"seg":"c","i":352.6,"p":1712.5}],
"thinBlue":[{"seg":"a","i":300.4,"p":1797.3},{"seg":"a","i":319.4,"p":1747.8},{"seg":"b","i":306.5,"p":1789.7},{"seg":"b","i":319.4,"p":1747.8}],
"fib":[{"i":166.9,"b":466.9,"p":1876.15},{"i":166.9,"b":466.9,"p":1854.73},{"i":166.9,"b":466.9,"p":1841.47},{"i":166.9,"b":466.9,"p":1830.76},{"i":166.9,"b":466.9,"p":1820.05},{"i":166.9,"b":466.9,"p":1785.37},{"i":166.9,"b":466.9,"p":1750.7},{"i":166.9,"b":466.9,"p":1739.98},{"i":166.9,"b":466.9,"p":1729.27},{"i":166.9,"b":466.9,"p":1694.59},{"i":166.9,"b":466.9,"p":1667.35}],
"fibL":[{"i":445.6,"p":1876.15,"t":"0.00"},{"i":445.6,"p":1854.73,"t":"23.6"},{"i":445.6,"p":1841.47,"t":"38.2"},{"i":445.6,"p":1830.76,"t":"50.0"},{"i":445.6,"p":1820.05,"t":"61.8"},{"i":445.6,"p":1785.37,"t":"100.0"},{"i":445.6,"p":1729.27,"t":"161.8"},{"i":445.6,"p":1694.59,"t":"200"},{"i":445.6,"p":1667.35,"t":"230"}],
"fibR":[{"i":466.6,"p":1876.15,"t":"(1876.15)"},{"i":466.6,"p":1854.73,"t":"(1854.73)"},{"i":466.6,"p":1841.47,"t":"(1841.47)"},{"i":466.6,"p":1830.76,"t":"(1830.76)"},{"i":466.6,"p":1820.05,"t":"(1820.05)"},{"i":466.6,"p":1785.37,"t":"(1785.37)"},{"i":466.6,"p":1750.7,"t":"138.2"},{"i":466.6,"p":1739.98,"t":"150"},{"i":466.6,"p":1729.27,"t":"(1729.27)"},{"i":466.6,"p":1694.59,"t":"(1694.59)"},{"i":466.6,"p":1667.35,"t":"(1667.35)"}],
"up":[{"i":5.6,"p":1853.5},{"i":10.6,"p":1845.1},{"i":16.6,"p":1861.6},{"i":22.7,"p":1871.8},{"i":28.7,"p":1902.1},{"i":34.7,"p":1895.4},{"i":38.7,"p":1913},{"i":43.8,"p":1890.3},{"i":52.6,"p":1884.7},{"i":60.8,"p":1906.4},{"i":64.7,"p":1902.4},{"i":70.8,"p":1892.7},{"i":78.8,"p":1905.9},{"i":97.9,"p":1965.2},{"i":102.8,"p":1933.5},{"i":121.8,"p":1869.9},{"i":126.1,"p":1869},{"i":136.2,"p":1863.7},{"i":140,"p":1862.9},{"i":145,"p":1847},{"i":151,"p":1851.7},{"i":162.2,"p":1881.2},{"i":175.8,"p":1873.9},{"i":179.7,"p":1867.9},{"i":186.8,"p":1859.3},{"i":194.8,"p":1870.3},{"i":199.8,"p":1882},{"i":204.8,"p":1878.1},{"i":214.6,"p":1851.4},{"i":232.8,"p":1824.7},{"i":241,"p":1854.6},{"i":247.9,"p":1861.6},{"i":253.8,"p":1853.8},{"i":260.7,"p":1837.3},{"i":268.5,"p":1832.6},{"i":282.8,"p":1795.7},{"i":288.8,"p":1797.6},{"i":298.8,"p":1822.4},{"i":304.2,"p":1820.5},{"i":323.8,"p":1765.9},{"i":333.8,"p":1747},{"i":343,"p":1729.4},{"i":348.9,"p":1714.1},{"i":352,"p":1720.3}],
"down":[{"i":4.6,"p":1818.4},{"i":9.9,"p":1814.5},{"i":24.6,"p":1839.3},{"i":33.7,"p":1872.3},{"i":39.8,"p":1849.8},{"i":48.7,"p":1853.5},{"i":52.7,"p":1851.7},{"i":58.8,"p":1864.4},{"i":63.8,"p":1864},{"i":70.9,"p":1866.3},{"i":75.9,"p":1870.7},{"i":79.8,"p":1880},{"i":93.8,"p":1933.8},{"i":100,"p":1895.4},{"i":105,"p":1901.7},{"i":114,"p":1811.4},{"i":123,"p":1831.3},{"i":132.1,"p":1824.3},{"i":128,"p":1844},{"i":144.2,"p":1801.2},{"i":152.1,"p":1827.9},{"i":158.2,"p":1827.1},{"i":164.2,"p":1853.3},{"i":170.2,"p":1831.8},{"i":173.9,"p":1844.4},{"i":177,"p":1842},{"i":180.8,"p":1843.3},{"i":184.7,"p":1838.1},{"i":187.9,"p":1826.3},{"i":190.9,"p":1828.7},{"i":201.7,"p":1836.5},{"i":211.8,"p":1824.4},{"i":234.8,"p":1802.8},{"i":229.8,"p":1788.2},{"i":224.7,"p":1780},{"i":238.9,"p":1823.6},{"i":241.9,"p":1827.1},{"i":245,"p":1828.7},{"i":248.9,"p":1829.5},{"i":252,"p":1828.7},{"i":259.8,"p":1805.1},{"i":265.7,"p":1810.6},{"i":270.7,"p":1784.4},{"i":277.7,"p":1764},{"i":285.8,"p":1755.7},{"i":300.9,"p":1790.2},{"i":306.9,"p":1777.9},{"i":319.8,"p":1711.7},{"i":329,"p":1701.8},{"i":338,"p":1696.8},{"i":345.9,"p":1682.2},{"i":349,"p":1682.2}],
"redSmall":[{"i":4.3,"p":1837.8},{"i":64.2,"p":1877},{"i":76.5,"p":1887.5},{"i":76.5,"p":1883.9},{"i":79.5,"p":1885.9},{"i":109.5,"p":1886.7},{"i":174.7,"p":1860.8},{"i":288.5,"p":1783.1},{"i":325.5,"p":1742.3},{"i":349.5,"p":1702.6}],
"whiteTri":[{"i":5.4,"p":1838.1},{"i":66.4,"p":1877},{"i":77,"p":1883.9},{"i":79.5,"p":1896.5},{"i":80.4,"p":1889.9},{"i":110.6,"p":1894.9},{"i":188.3,"p":1836.5},{"i":289.6,"p":1786.3},{"i":326.5,"p":1731.3},{"i":352.6,"p":1712.5}],
"blueSmall":[{"i":68.3,"p":1876.2},{"i":300.4,"p":1797.3},{"i":306.5,"p":1789.7},{"i":319.4,"p":1747.8}],
"sigDown":[{"i":117,"p":1906.8},{"i":192.8,"p":1856.1},{"i":218.8,"p":1856.9},{"i":258.7,"p":1843.1}],
"sigUp":[{"i":176.7,"p":1853.8},{"i":207.9,"p":1840.8},{"i":254.9,"p":1829.4}],
"box":[{"i":285,"b":334,"p":1819.2,"q":1797.9}],
"arrowDown":[{"i":302.8,"p":1799.8}],
"arrowDiag":[{"i":307.9,"p":1789.4}],
"arrowRight":[{"i":458.6,"p":1757.9}],
"last":[{"i":-0.22,"b":466.9,"p":1684.3}],
"lastBox":[{"i":467.5,"b":476.6,"p":1686.4,"q":1682.2}],
"lastText":[{"i":467.9,"p":1684.3,"t":"1684.12"}],
"scrollBox":[{"i":474.3,"b":476.4,"p":1697.6,"q":1671.7}],
"scrollFill":[{"i":474.9,"b":475.8,"p":1677.4,"q":1671.9}],
"topMark":[{"i":358.6,"p":1972.6}],
"zero":[{"i":-0.22,"b":466.9,"m":0}],
"oscBox":[{"i":467.5,"b":474.8,"m":49.5,"n":46.1},{"i":467.5,"b":474.8,"m":1.7,"n":-1.7},{"i":467.5,"b":475.8,"m":-72.7,"n":-73.4}],
"oscText":[{"i":468.1,"m":47.8,"t":"49.845"},{"i":468.1,"m":0,"t":"0.00"},{"i":468.1,"m":-74.9,"t":"-76.788"}],
"logo":[{"i":430.1,"m":-52.1}],
"mark":[{"i":436.8,"m":-52.1,"t":"@李小抓"}]
},
"vconcat":[
{"width":1867,"height":644,
"encoding":{"x":{"field":"i","type":"quantitative","scale":{"domain":[-0.22,466.9],"nice":false,"zero":false},"axis":{"orient":"bottom","values":[7.9,37.9,61,84,113.9,143.9,173,203,233.1,263,292.1,322.1,352.1,388.1],"grid":true,"gridColor":"#ffffff","gridDash":[3,3],"gridWidth":1,"gridOpacity":1,"labels":false,"ticks":false,"domain":true,"domainColor":"#ffffff","domainWidth":1,"title":null}},
"y":{"field":"p","type":"quantitative","scale":{"domain":[1669.8,1973.08],"nice":false,"zero":false},"axis":{"orient":"right","values":[1966.25,1950.5,1935.2,1919.45,1904.15,1888.4,1873.1,1857.35,1842.05,1826.3,1810.55,1795.25,1779.5,1764.2,1748.45,1733.15,1717.4,1702.1,1686.35,1671.05],"format":".2f","grid":false,"domain":true,"domainColor":"#ffffff","domainWidth":1,"tickColor":"#ffffff","tickSize":4,"labelColor":"#ffffff","labelFont":"Liberation Sans","labelFontSize":10,"labelPadding":2,"labelOverlap":false,"labelBound":false,"labelFlush":false,"title":null}}},
"layer":[
{"data":{"name":"fib"},"mark":{"type":"rule","color":"#e6e678","strokeWidth":1.2,"clip":true},"encoding":{"x2":{"field":"b"}}},
{"data":{"name":"last"},"mark":{"type":"rule","color":"#808080","strokeWidth":1,"clip":true},"encoding":{"x2":{"field":"b"}}},
{"data":{"name":"fibL"},"mark":{"type":"text","color":"#d8d850","fontSize":10,"align":"center","dy":-7,"clip":true},"encoding":{"text":{"field":"t"}}},
{"data":{"name":"fibR"},"mark":{"type":"text","color":"#d8d850","fontSize":10,"align":"right","dy":-7,"clip":true},"encoding":{"text":{"field":"t"}}},
{"data":{"name":"thinRed"},"mark":{"type":"line","color":"#8b1a1a","strokeWidth":1,"strokeDash":[2,3],"clip":true},"encoding":{"detail":{"field":"seg"}}},
{"data":{"name":"thinBlue"},"mark":{"type":"line","color":"#1a1a9a","strokeWidth":1,"clip":true},"encoding":{"detail":{"field":"seg"}}},
{"data":{"name":"bars"},"mark":{"type":"rule","color":"#2fc22f","strokeWidth":1,"clip":true},"encoding":{"y":{"field":"h","type":"quantitative","scale":{"domain":[1669.8,1973.08],"nice":false,"zero":false},"axis":{"orient":"right","values":[1966.25,1950.5,1935.2,1919.45,1904.15,1888.4,1873.1,1857.35,1842.05,1826.3,1810.55,1795.25,1779.5,1764.2,1748.45,1733.15,1717.4,1702.1,1686.35,1671.05],"format":".2f","grid":false,"domain":true,"domainColor":"#ffffff","domainWidth":1,"tickColor":"#ffffff","tickSize":4,"labelColor":"#ffffff","labelFont":"Liberation Sans","labelFontSize":10,"labelPadding":2,"labelOverlap":false,"labelBound":false,"labelFlush":false,"title":null}},"y2":{"field":"l"}}},
{"data":{"name":"bars"},"mark":{"type":"rule","color":"#5cdc5c","strokeWidth":2.6,"clip":true},"encoding":{"y":{"field":"o","type":"quantitative","scale":{"domain":[1669.8,1973.08],"nice":false,"zero":false},"axis":{"orient":"right","values":[1966.25,1950.5,1935.2,1919.45,1904.15,1888.4,1873.1,1857.35,1842.05,1826.3,1810.55,1795.25,1779.5,1764.2,1748.45,1733.15,1717.4,1702.1,1686.35,1671.05],"format":".2f","grid":false,"domain":true,"domainColor":"#ffffff","domainWidth":1,"tickColor":"#ffffff","tickSize":4,"labelColor":"#ffffff","labelFont":"Liberation Sans","labelFontSize":10,"labelPadding":2,"labelOverlap":false,"labelBound":false,"labelFlush":false,"title":null}},"y2":{"field":"c"}}},
{"data":{"name":"sar"},"mark":{"type":"line","color":"#d81818","strokeWidth":3,"strokeDash":[3,1.2],"clip":true},"encoding":{"detail":{"field":"seg"}}},
{"data":{"name":"red"},"mark":{"type":"line","color":"#e01414","strokeWidth":2.4,"interpolate":"monotone","clip":true}},
{"data":{"name":"blue"},"mark":{"type":"line","color":"#0e1ed2","strokeWidth":2.2,"interpolate":"monotone","clip":true}},
{"data":{"name":"up"},"mark":{"type":"point","filled":true,"shape":"M-0.05,-1 L0.8,0.95 L0,0.45 L-0.75,0.85 Z","size":230,"fill":"#f8c820","stroke":"#8a6a10","strokeWidth":0.8,"opacity":1}},
{"data":{"name":"down"},"mark":{"type":"point","filled":true,"shape":"M0,1 L-0.8,-0.8 L0,-0.35 L0.8,-0.95 Z","size":230,"fill":"#f8c820","stroke":"#8a6a10","strokeWidth":0.8,"opacity":1}},
{"data":{"name":"whiteTri"},"mark":{"type":"point","filled":true,"shape":"M-0.7,0 L0.7,-1 L0.7,1 Z","size":110,"fill":"#d8d8c8","opacity":1}},
{"data":{"name":"redSmall"},"mark":{"type":"point","filled":true,"shape":"M-1,-0.45 L0.1,-0.45 L0.1,-1 L1,0 L0.1,1 L0.1,0.45 L-1,0.45 Z","size":90,"fill":"#e01010","stroke":"#ffffff","strokeWidth":1,"opacity":1}},
{"data":{"name":"blueSmall"},"mark":{"type":"point","filled":true,"shape":"M-1,-0.45 L0.1,-0.45 L0.1,-1 L1,0 L0.1,1 L0.1,0.45 L-1,0.45 Z","size":90,"fill":"#0a1ee0","stroke":"#ffffff","strokeWidth":1,"opacity":1}},
{"data":{"name":"sigDown"},"mark":{"type":"point","filled":true,"shape":"M-0.14,-1 L0.14,-1 L0.14,-0.45 L0.55,-0.5 L0,0.15 L-0.55,-0.5 L-0.14,-0.45 Z","size":784,"fill":"#e8141c","opacity":1}},
{"data":{"name":"sigDown"},"mark":{"type":"point","filled":true,"shape":"M0,-0.05 L0.4,0.45 L0,0.95 L-0.4,0.45 Z","size":784,"fill":"#b03030","opacity":1}},
{"data":{"name":"sigUp"},"mark":{"type":"point","filled":true,"shape":"M-0.14,1 L0.14,1 L0.14,0.45 L0.55,0.5 L0,-0.15 L-0.55,0.5 L-0.14,0.45 Z","size":784,"fill":"#1e90e8","opacity":1}},
{"data":{"name":"sigUp"},"mark":{"type":"point","filled":true,"shape":"M0,0.05 L0.4,-0.45 L0,-0.95 L-0.4,-0.45 Z","size":784,"fill":"#0a28e6","opacity":1}},
{"data":{"name":"box"},"mark":{"type":"rect","fillOpacity":0,"stroke":"#e64040","strokeWidth":3},"encoding":{"x2":{"field":"b"},"y2":{"field":"q"}}},
{"data":{"name":"arrowDown"},"mark":{"type":"point","filled":true,"shape":"M-0.3,-16.8 L0,-16.8 L0.35,-1.9 L0.75,-2 L0,0 L-0.85,-1.9 L-0.3,-1.9 Z","size":400,"fill":"#e84040","opacity":1}},
{"data":{"name":"arrowDiag"},"mark":{"type":"point","filled":true,"shape":"M8.43,-13.5 L1.3,-1.41 L1.68,-1.18 L0,0 L0.32,-2.02 L0.7,-1.79 Z","size":400,"fill":"#e84040","opacity":1}},
{"data":{"name":"arrowRight"},"mark":{"type":"point","filled":true,"shape":"M-16.9,-4.4 L-1.45,-0.5 L-1.33,-0.93 L0,0 L-1.73,0.47 L-1.58,0 L-16.9,-4.2 Z","size":400,"fill":"#e84040","opacity":1}},
{"data":{"name":"scrollBox"},"mark":{"type":"rect","fillOpacity":0,"stroke":"#666666","strokeWidth":1,"cornerRadius":4},"encoding":{"x2":{"field":"b"},"y2":{"field":"q"}}},
{"data":{"name":"scrollFill"},"mark":{"type":"rect","fill":"#2e9b5e"},"encoding":{"x2":{"field":"b"},"y2":{"field":"q"}}},
{"data":{"name":"lastBox"},"mark":{"type":"rect","fill":"#ffffff"},"encoding":{"x2":{"field":"b"},"y2":{"field":"q"}}},
{"data":{"name":"lastText"},"mark":{"type":"text","color":"#000000","fontSize":10,"align":"left"},"encoding":{"text":{"field":"t"}}},
{"data":{"name":"topMark"},"mark":{"type":"point","filled":true,"shape":"triangle-down","size":30,"fill":"#888888","opacity":1,"clip":true}}
]},
{"width":1867,"height":332,
"encoding":{"x":{"field":"i","type":"quantitative","scale":{"domain":[-0.22,466.9],"nice":false,"zero":false},"axis":{"orient":"top","values":[7.9,37.9,61,84,113.9,143.9,173,203,233.1,263,292.1,322.1,352.1,388.1],"grid":true,"gridColor":"#ffffff","gridDash":[3,3],"gridWidth":1,"gridOpacity":1,"labels":false,"ticks":false,"domain":true,"domainColor":"#ffffff","domainWidth":1,"title":null}},
"y":{"field":"m","type":"quantitative","scale":{"domain":[-73.5,51],"nice":false,"zero":false},"axis":{"orient":"right","values":[],"grid":false,"labels":false,"ticks":false,"domain":true,"domainColor":"#ffffff","domainWidth":1,"title":null}}},
"layer":[
{"data":{"name":"bars"},"mark":{"type":"rule","strokeWidth":3,"clip":true},"encoding":{"y2":{"datum":0},"color":{"field":"s","type":"nominal","scale":{"domain":["g","r"],"range":["#17e817","#e01010"]},"legend":null}}},
{"data":{"name":"zero"},"mark":{"type":"rule","color":"#d0d0d0","strokeWidth":2,"clip":true},"encoding":{"x2":{"field":"b"}}},
{"data":{"name":"oscBox"},"mark":{"type":"rect","fill":"#e01010"},"encoding":{"x2":{"field":"b"},"y2":{"field":"n"}}},
{"data":{"name":"oscText"},"mark":{"type":"text","color":"#ffffff","fontSize":10,"align":"left"},"encoding":{"text":{"field":"t"}}},
{"data":{"name":"logo"},"mark":{"type":"point","filled":true,"shape":"M-1,0 A1,1 0 1 1 0.5,0.87 L-0.5,1.6 L-0.4,0.92 A1,1 0 0 1 -1,0 Z","size":900,"fill":"#ffffff","opacity":1}},
{"data":{"name":"logo"},"mark":{"type":"point","filled":false,"shape":"M-0.3,0.9 Q-0.5,-0.7 0.5,-0.85 M-0.95,-0.05 L-0.5,-0.05 M-0.05,-0.05 L0.98,-0.05","size":900,"fillOpacity":0,"stroke":"#000000","strokeWidth":3,"opacity":1}},
{"data":{"name":"mark"},"mark":{"type":"text","color":"#ffffff","font":"Noto Sans CJK SC","fontSize":35,"fontWeight":300,"align":"left"},"encoding":{"text":{"field":"t"}}}
]}
]}
